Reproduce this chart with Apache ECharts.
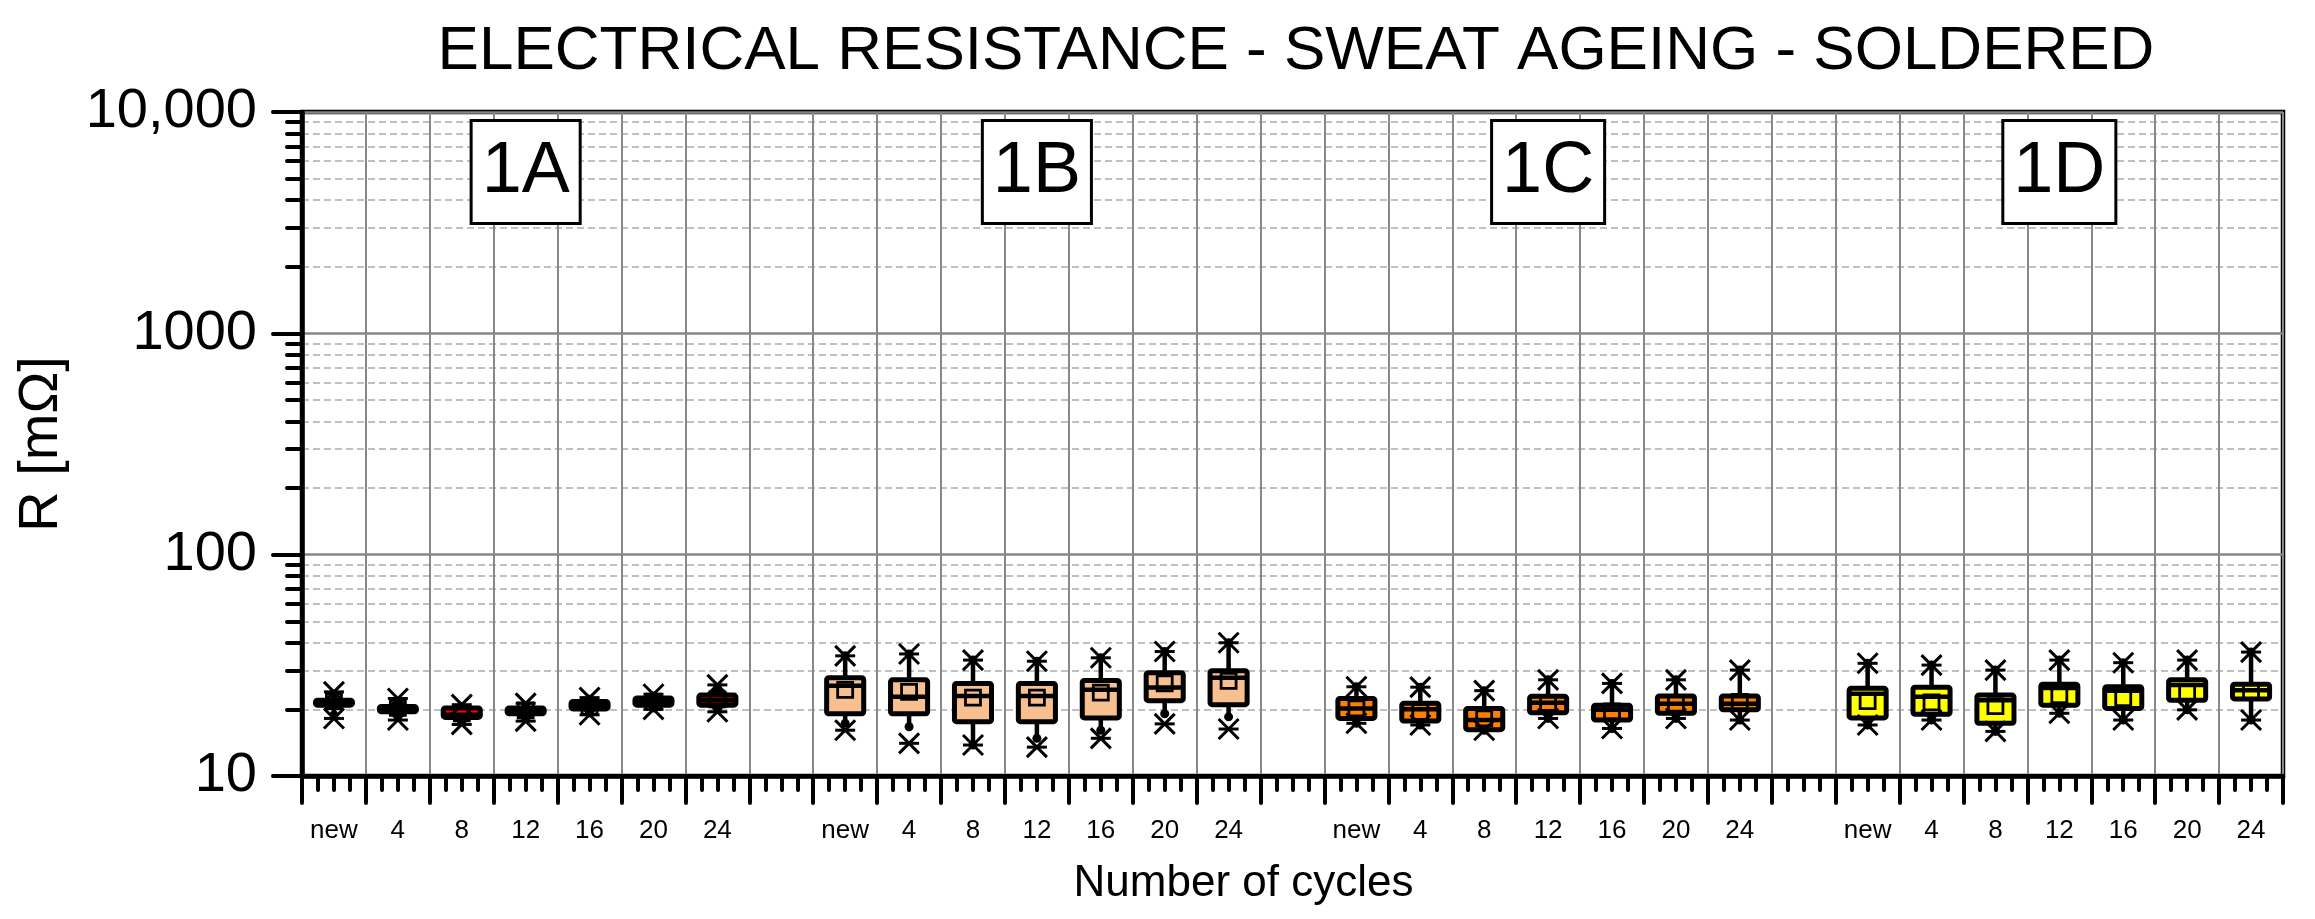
<!DOCTYPE html>
<html><head><meta charset="utf-8">
<script src="https://cdn.jsdelivr.net/npm/echarts@6/dist/echarts.min.js"></script>
<style>html,body{margin:0;padding:0;background:#fff}#c{width:2315px;height:919px}</style>
</head><body><div id="c"></div>
<script>
const titleText = 'ELECTRICAL RESISTANCE - SWEAT AGEING - SOLDERED';
const xAxisName = 'Number of cycles';
const yAxisName = 'R [mΩ]';
const groups = ['1A', '1B', '1C', '1D'];
const groupColors = ['#ff0000', '#f8c090', '#ff8000', '#ffff00'];
const cycles = ['new', '4', '8', '12', '16', '20', '24'];
const yTickLabels = { 10: '10', 100: '100', 1000: '1000', 10000: '10,000' };
const minorValues = [20, 30, 40, 50, 60, 70, 80, 90, 200, 300, 400, 500, 600, 700, 800, 900, 2000, 3000, 4000, 5000, 6000, 7000, 8000, 9000];
const groupLabelValue = 5350;

// rows: 1A, 1B, 1C, 1D ; columns: new, 4, 8, 12, 16, 20, 24
const minVals = [
  [18.2, 17.9, 17.1, 17.7, 18.9, 20.0, 19.5],
  [16.1, 14.05, 13.8, 13.5, 14.8, 17.2, 16.3],
  [17.3, 17.0, 16.1, 18.2, 16.4, 18.2, 17.9],
  [17.0, 17.9, 15.9, 19.2, 17.9, 19.9, 17.9]
];
const whiskerLow = [
  [18.9, 18.6, 17.6, 18.2, 19.3, 20.3, 20.0],
  [17.3, 16.7, 13.8, 14.8, 16.1, 19.1, 18.5],
  [17.3, 17.0, 16.1, 18.2, 16.4, 18.2, 17.9],
  [17.0, 17.9, 15.9, 19.2, 17.9, 19.9, 17.9]
];
const q1Vals = [
  [20.9, 19.5, 18.4, 19.1, 20.1, 20.9, 20.9],
  [19.1, 19.1, 17.6, 17.6, 18.3, 21.9, 21.0],
  [18.2, 17.7, 16.2, 19.3, 17.9, 19.2, 19.9],
  [18.3, 19.0, 17.3, 20.9, 20.2, 22.0, 22.3]
];
const medianVals = [
  [21.4, 20.0, 18.9, 19.5, 20.9, 21.6, 22.0],
  [25.6, 22.8, 23.0, 23.0, 24.5, 25.1, 27.8],
  [20.2, 20.0, 17.9, 21.4, 19.9, 21.2, 21.2],
  [23.5, 22.8, 22.0, 25.0, 24.3, 25.8, 24.4]
];
const q3Vals = [
  [22.0, 20.6, 20.3, 20.3, 21.7, 22.5, 23.2],
  [27.8, 27.2, 26.2, 26.2, 27.0, 29.3, 29.9],
  [22.4, 21.3, 20.2, 22.9, 20.9, 23.0, 23.0],
  [24.9, 25.2, 23.2, 26.0, 25.3, 27.2, 26.0]
];
const whiskerHigh = [
  [23.4, 21.6, 20.6, 20.8, 22.2, 23.0, 24.8],
  [34.9, 35.6, 33.4, 33.0, 34.2, 36.5, 40.0],
  [25.3, 25.2, 24.3, 27.2, 26.2, 27.2, 30.1],
  [32.3, 31.7, 30.1, 33.4, 32.5, 33.4, 36.3]
];
const maxVals = [
  [24.0, 22.4, 21.0, 21.3, 22.6, 23.4, 25.8],
  [34.9, 35.6, 33.4, 33.0, 34.2, 36.5, 40.0],
  [25.3, 25.2, 24.3, 27.2, 26.2, 27.2, 30.1],
  [32.3, 31.7, 30.1, 33.4, 32.5, 33.4, 36.3]
];
const meanVals = [
  [21.8, 20.3, 19.2, 19.8, 20.6, 21.7, 22.2],
  [24.5, 24.0, 22.6, 22.6, 23.8, 26.2, 26.9],
  [20.2, 19.5, 18.2, 21.4, 19.6, 21.2, 21.6],
  [21.8, 21.5, 20.7, 23.2, 22.5, 23.7, 24.0]
];

// category list: 7 cycles per group, one empty slot between groups
const categories = [];
const boxData = [];
groups.forEach((g, gi) => {
  cycles.forEach((c, ci) => {
    boxData.push([categories.length, minVals[gi][ci], whiskerLow[gi][ci], q1Vals[gi][ci], medianVals[gi][ci],
      q3Vals[gi][ci], whiskerHigh[gi][ci], maxVals[gi][ci], meanVals[gi][ci], gi]);
    categories.push(g + '|' + c);
  });
  if (gi < groups.length - 1) categories.push('gap' + gi);
});
const groupLabelData = groups.map((g, gi) => [gi * (cycles.length + 1) + 3, groupLabelValue]);

const FONT = '"Liberation Sans", Arial, Helvetica, sans-serif';
const BLACK = '#000';

function renderItem(params, api) {
  const xi = api.value(0);
  const mn = api.value(1), wlo = api.value(2), q1 = api.value(3), med = api.value(4),
    q3 = api.value(5), whi = api.value(6), mx = api.value(7), mean = api.value(8), gi = api.value(9);
  const band = api.size([1, 0], [xi, 20])[0];
  const cx = api.coord([xi, med])[0];
  const Y = v => api.coord([xi, v])[1];
  const bw = band * 0.58;
  const ch = [];
  ch.push({ type: 'line', shape: { x1: cx, y1: Y(q3), x2: cx, y2: Y(whi) }, style: { stroke: BLACK, lineWidth: 4.5 } });
  ch.push({ type: 'line', shape: { x1: cx, y1: Y(q1), x2: cx, y2: Y(wlo) }, style: { stroke: BLACK, lineWidth: 4.5 } });
  ch.push({ type: 'circle', shape: { cx: cx, cy: Y(whi), r: 4.5 }, style: { fill: BLACK } });
  ch.push({ type: 'circle', shape: { cx: cx, cy: Y(wlo), r: 4.5 }, style: { fill: BLACK } });
  const yTop = Y(q3), yBot = Y(q1);
  ch.push({ type: 'rect', shape: { x: cx - bw / 2, y: yTop, width: bw, height: yBot - yTop, r: 2 },
    style: { fill: groupColors[gi], stroke: BLACK, lineWidth: 5 } });
  const ym = Y(med);
  ch.push({ type: 'line', shape: { x1: cx - bw / 2, y1: ym, x2: cx + bw / 2, y2: ym }, style: { stroke: BLACK, lineWidth: 4.5 } });
  const ms = 15, yMean = Y(mean);
  ch.push({ type: 'rect', shape: { x: cx - ms / 2, y: yMean - ms / 2, width: ms, height: ms },
    style: { fill: 'none', stroke: BLACK, lineWidth: 2.8 } });
  [mn, mx].forEach(v => {
    const y = Y(v), s = 10;
    ch.push({ type: 'line', shape: { x1: cx - s, y1: y - s, x2: cx + s, y2: y + s }, style: { stroke: BLACK, lineWidth: 3 } });
    ch.push({ type: 'line', shape: { x1: cx - s, y1: y + s, x2: cx + s, y2: y - s }, style: { stroke: BLACK, lineWidth: 3 } });
    ch.push({ type: 'line', shape: { x1: cx - s, y1: y, x2: cx + s, y2: y }, style: { stroke: BLACK, lineWidth: 3 } });
  });
  return { type: 'group', children: ch };
}

function renderLabel(params, api) {
  const p = api.coord([api.value(0), api.value(1)]);
  return {
    type: 'text', x: p[0], y: p[1],
    style: {
      text: groups[params.dataIndex], fontSize: 72, fontFamily: FONT, fill: BLACK,
      align: 'center', verticalAlign: 'middle', lineHeight: 72,
      backgroundColor: '#fff', borderColor: BLACK, borderWidth: 3, padding: [14, 9, 14, 9]
    }
  };
}

const chart = echarts.init(document.getElementById('c'), null, { renderer: 'canvas' });
chart.setOption({
  backgroundColor: '#fff',
  animation: false,
  textStyle: { fontFamily: FONT, color: BLACK },
  title: {
    text: titleText, left: 1291, top: 16, textAlign: 'center',
    textStyle: { fontSize: 62, fontWeight: 'normal', color: BLACK, fontFamily: FONT }
  },
  grid: { left: 302, right: 32, top: 112, bottom: 143, show: true, borderColor: BLACK, borderWidth: 4.5, backgroundColor: 'transparent' },
  xAxis: [
    {
      type: 'category', data: categories, boundaryGap: true, position: 'bottom',
      axisLine: { show: false }, axisTick: { show: false },
      axisLabel: { interval: 0, fontSize: 26, color: BLACK, margin: 42, fontFamily: FONT,
        formatter: v => (v.indexOf('|') >= 0 ? v.split('|')[1] : '') },
      splitLine: { show: true, interval: 0, lineStyle: { color: '#888', width: 2 } },
      name: xAxisName, nameLocation: 'middle', nameGap: 86,
      nameTextStyle: { fontSize: 44, color: BLACK, fontFamily: FONT, padding: [0, 98, 0, 0] }
    },
    {
      type: 'value', min: 0, max: categories.length, interval: 1, position: 'bottom',
      axisLine: { show: true, lineStyle: { color: BLACK, width: 4.5 } },
      axisTick: { show: true, length: 27, lineStyle: { color: BLACK, width: 4, cap: 'round' } },
      minorTick: { show: true, splitNumber: 4, length: 14, lineStyle: { color: BLACK, width: 4, cap: 'round' } },
      axisLabel: { show: false }, splitLine: { show: false }
    }
  ],
  yAxis: [
    {
      type: 'log', logBase: 10, min: 10, max: 10000, position: 'left',
      axisLine: { show: true, lineStyle: { color: BLACK, width: 4.5 } },
      axisTick: { show: true, length: 29, lineStyle: { color: BLACK, width: 4, cap: 'round' } },
      axisLabel: { fontSize: 56, color: BLACK, margin: 45, fontFamily: FONT, formatter: v => yTickLabels[Math.round(v)] || '' },
      splitLine: { show: true, lineStyle: { color: '#888', width: 2.5 } },
      minorTick: { show: false },
      name: yAxisName, nameLocation: 'middle', nameRotate: 90, nameGap: 232,
      nameTextStyle: { fontSize: 56, color: BLACK, fontFamily: FONT }
    },
    {
      type: 'log', logBase: 10, min: 10, max: 10000, position: 'left',
      axisLine: { show: false },
      axisTick: { show: true, customValues: minorValues, length: 15, lineStyle: { color: BLACK, width: 4, cap: 'round' } },
      axisLabel: { show: false },
      splitLine: { show: true, lineStyle: { color: '#c0c0c0', width: 2, type: [7, 4] } }
    }
  ],
  series: [
    {
      type: 'custom', xAxisIndex: 0, yAxisIndex: 0, data: boxData, renderItem: renderItem, z: 5,
      encode: { x: 0, y: [1, 2, 3, 4, 5, 6, 7, 8] }, silent: true
    },
    {
      type: 'custom', xAxisIndex: 0, yAxisIndex: 0, data: groupLabelData, renderItem: renderLabel, z: 10, silent: true,
      encode: { x: 0, y: 1 }
    }
  ]
});
</script></body></html>
